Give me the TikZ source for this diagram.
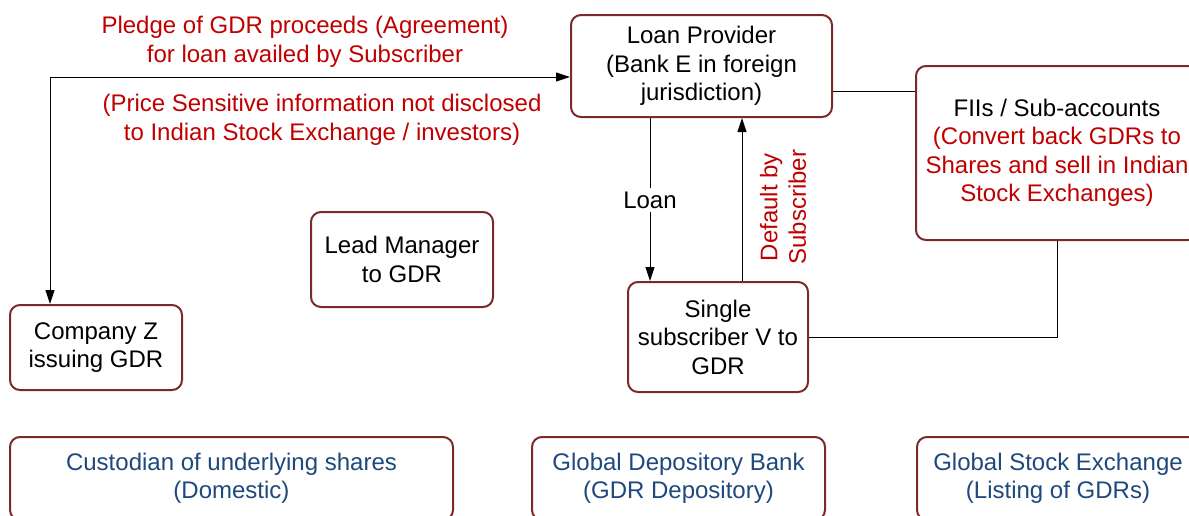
\documentclass[tikz,border=0pt]{standalone}
\usepackage{fontspec}
\setmainfont{Liberation Sans}
\usetikzlibrary{arrows.meta}
\definecolor{boxred}{RGB}{122,42,40}
\definecolor{txtred}{RGB}{192,0,0}
\definecolor{txtblue}{RGB}{31,73,125}
\tikzset{
  box/.style={draw=boxred, line width=2pt, rounded corners=10pt, align=center, inner sep=0pt, fill=white,
    execute at begin node={\rule{0pt}{23.5pt}}},
  lbl/.style={align=center, inner sep=0pt},
  conn/.style={draw=black, line width=0.9pt},
  tip/.tip={Triangle[length=14pt,width=9pt]},
}
\begin{document}
\begin{tikzpicture}[x=1pt,y=-1pt,font=\fontsize{24}{28.5}\selectfont]
\path[use as bounding box] (0,0) rectangle (1189,515);
\clip (0,0) rectangle (1189,515);

% boxes
\node[box, minimum width=261pt, minimum height=102pt] (lp) at (701.5,66) {Loan Provider\\(Bank E in foreign\\jurisdiction)};
\node[box, minimum width=282pt, minimum height=174pt] (fii) at (1057,153) {FIIs / Sub-accounts\\\textcolor{txtred}{(Convert back GDRs to}\\\textcolor{txtred}{Shares and sell in Indian}\\\textcolor{txtred}{Stock Exchanges)}};
\node[box, minimum width=182pt, minimum height=95pt] (lm) at (402,259.5) {Lead Manager\\to GDR};
\node[box, minimum width=172pt, minimum height=85pt] (cz) at (96,347.5) {Company Z\\issuing GDR};
\node[box, minimum width=180pt, minimum height=110pt] (ss) at (718,337) {Single\\subscriber V to\\GDR};
\node[box, minimum width=443pt, minimum height=83pt, text=txtblue] (cu) at (231.5,478.5) {Custodian of underlying shares\\(Domestic)};
\node[box, minimum width=293pt, minimum height=83pt, text=txtblue] (gdb) at (678.5,478.5) {Global Depository Bank\\(GDR Depository)};
\node[box, minimum width=282pt, minimum height=83pt, text=txtblue] (gse) at (1058,478.5) {Global Stock Exchange\\(Listing of GDRs)};

% helper coordinates
\coordinate (corner) at (50,77);
\coordinate (xl) at (650,0);
\coordinate (xd) at (742,0);
\coordinate (yf) at (0,91);

% connectors
\draw[conn, tip-tip] (cz.north -| corner) -- (corner) -- (lp.west |- corner);
\draw[conn, -tip] (lp.south -| xl) -- (ss.north -| xl);
\draw[conn, -tip] (ss.north -| xd) -- (lp.south -| xd);
\draw[conn] (lp.east |- yf) -- (fii.west |- yf);
\draw[conn] (ss.east) -| (fii.south);

% labels
\node[lbl, text=txtred] (pledge) at (305,42) {Pledge of GDR proceeds (Agreement)\\for loan availed by Subscriber};
\node[lbl, text=txtred] (psi) at (322,120) {(Price Sensitive information not disclosed\\to Indian Stock Exchange / investors)};
\node[lbl, fill=white, inner ysep=4pt] (loan) at (xl |- 0,200) {Loan};
\node[lbl, text=txtred, rotate=90] (def) at (783,207) {Default by\\Subscriber};
\end{tikzpicture}
\end{document}
